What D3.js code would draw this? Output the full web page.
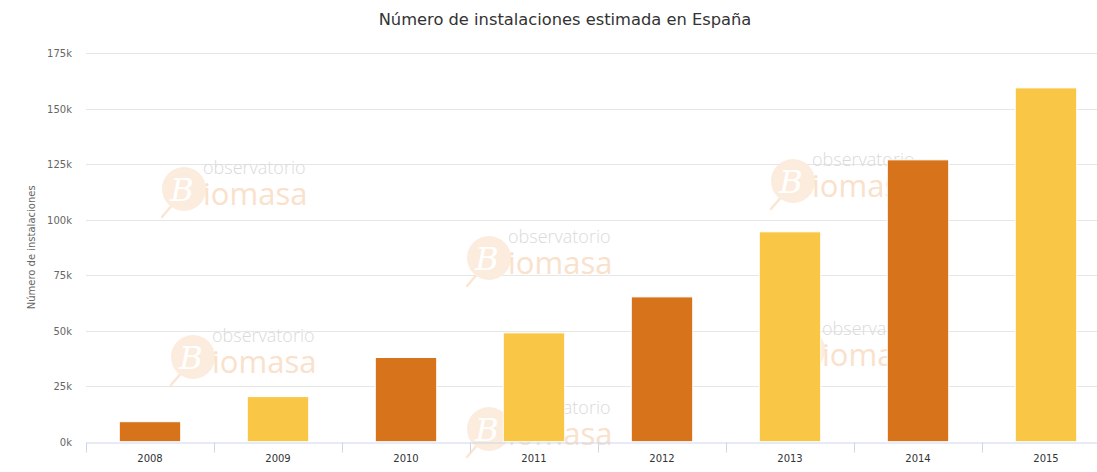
<!DOCTYPE html>
<html>
<head>
<meta charset="utf-8">
<script src="https://cdn.jsdelivr.net/npm/d3@7"></script>
<style>
  body { margin: 0; background: #fff; overflow: hidden; }
  svg { display: block; font-family: "DejaVu Sans", sans-serif; }
</style>
</head>
<body>
<div id="chart"></div>
<script>
// data
const years = ["2008", "2009", "2010", "2011", "2012", "2013", "2014", "2015"];
const installs = [9000, 20300, 37900, 49000, 65200, 94500, 126900, 159300];
const yTicks = [0, 25000, 50000, 75000, 100000, 125000, 150000, 175000];
const barColors = ["#d6731b", "#f9c646"];

const title = "Número de instalaciones estimada en España";
const yTitle = "Número de instalaciones";

// watermark anchors (left of "observatorio", its middle line)
const marks = [[203, 168], [508, 237], [212, 336], [812, 160], [822, 329], [508, 408]];

const width = 1097, height = 472;
const margin = { top: 53, right: 20, bottom: 30, left: 86 };
const chartW = 1130; // the original chart is wider than the crop

const svg = d3.select("#chart").append("svg")
  .attr("width", width)
  .attr("height", height);

const x = d3.scaleBand()
  .domain(years)
  .range([margin.left, chartW - margin.right])
  .paddingInner(0.52)
  .paddingOuter(0.26);

const y = d3.scaleLinear()
  .domain([0, 175000])
  .range([441.7, margin.top]);

// title
svg.append("text")
  .attr("x", chartW / 2)
  .attr("y", 25)
  .attr("text-anchor", "middle")
  .attr("fill", "#333")
  .style("font-size", "16.3px")
  .text(title);

// grid lines
svg.append("g")
  .selectAll("line")
  .data(yTicks.slice(1))
  .join("line")
  .attr("x1", margin.left)
  .attr("x2", chartW - margin.right)
  .attr("y1", d => Math.round(y(d)) + 0.5)
  .attr("y2", d => Math.round(y(d)) + 0.5)
  .attr("stroke", "#e6e6e6")
  .attr("stroke-width", 1);

// watermarks (behind the bars)
const wm = svg.append("g").attr("class", "watermarks");
marks.forEach(([mx, my]) => {
  const g = wm.append("g").attr("transform", `translate(${mx}, ${my})`);
  g.append("line")
    .attr("x1", -30).attr("y1", 36)
    .attr("x2", -41).attr("y2", 49)
    .attr("stroke", "#fbe6d4").attr("stroke-width", 2.5)
    .attr("stroke-linecap", "round");
  g.append("circle")
    .attr("cx", -19).attr("cy", 21).attr("r", 22)
    .attr("fill", "#fcecde");
  g.append("text")
    .attr("x", -21).attr("y", 33)
    .attr("text-anchor", "middle")
    .attr("fill", "#fff")
    .style("font-family", "'DejaVu Serif', serif")
    .style("font-style", "italic")
    .style("font-size", "32px")
    .text("B");
  g.append("text")
    .attr("x", 0).attr("y", 6)
    .attr("fill", "#dadada")
    .style("font-family", "'Open Sans', sans-serif")
    .style("font-weight", 300)
    .style("font-size", "18px")
    .text("observatorio");
  g.append("text")
    .attr("x", 0).attr("y", 37)
    .attr("fill", "#f9e1cc")
    .style("font-family", "'Open Sans', sans-serif")
    .style("font-size", "31px")
    .text("iomasa");
});

// bars
svg.append("g")
  .selectAll("rect")
  .data(years.map((yr, i) => ({ yr, v: installs[i], i })))
  .join("rect")
  .attr("x", d => x(d.yr))
  .attr("width", x.bandwidth())
  .attr("y", d => y(d.v))
  .attr("height", d => y(0) - y(d.v))
  .attr("fill", d => barColors[d.i % 2])
  .attr("stroke", "#fff")
  .attr("stroke-width", 1);

// y axis labels
svg.append("g")
  .selectAll("text")
  .data(yTicks)
  .join("text")
  .attr("x", 72)
  .attr("y", d => y(d) + 4)
  .attr("text-anchor", "end")
  .attr("fill", "#666")
  .style("font-size", "10px")
  .text(d => d / 1000 + "k");

// y axis title
svg.append("text")
  .attr("transform", `translate(35, ${(y(0) + y(175000)) / 2}) rotate(-90)`)
  .attr("text-anchor", "middle")
  .attr("fill", "#666")
  .style("font-size", "10px")
  .text(yTitle);

// x axis
const xAxis = d3.axisBottom(x).tickSize(0).tickPadding(12);
const xg = svg.append("g")
  .attr("transform", `translate(0, ${Math.round(y(0)) + 0.5})`)
  .call(xAxis);
xg.select(".domain").attr("stroke", "#ccd6eb");
xg.selectAll("text")
  .attr("fill", "#333")
  .style("font-size", "10px")
  .style("font-family", "'DejaVu Sans', sans-serif");

// category boundary ticks
const bounds = years.map(yr => x(yr) - x.step() * x.paddingOuter()).concat([chartW - margin.right]);
xg.selectAll(".bound")
  .data(bounds)
  .join("line")
  .attr("class", "bound")
  .attr("x1", d => Math.round(d) + 0.5)
  .attr("x2", d => Math.round(d) + 0.5)
  .attr("y1", 0)
  .attr("y2", 10)
  .attr("stroke", "#ccd6eb");
</script>
</body>
</html>
